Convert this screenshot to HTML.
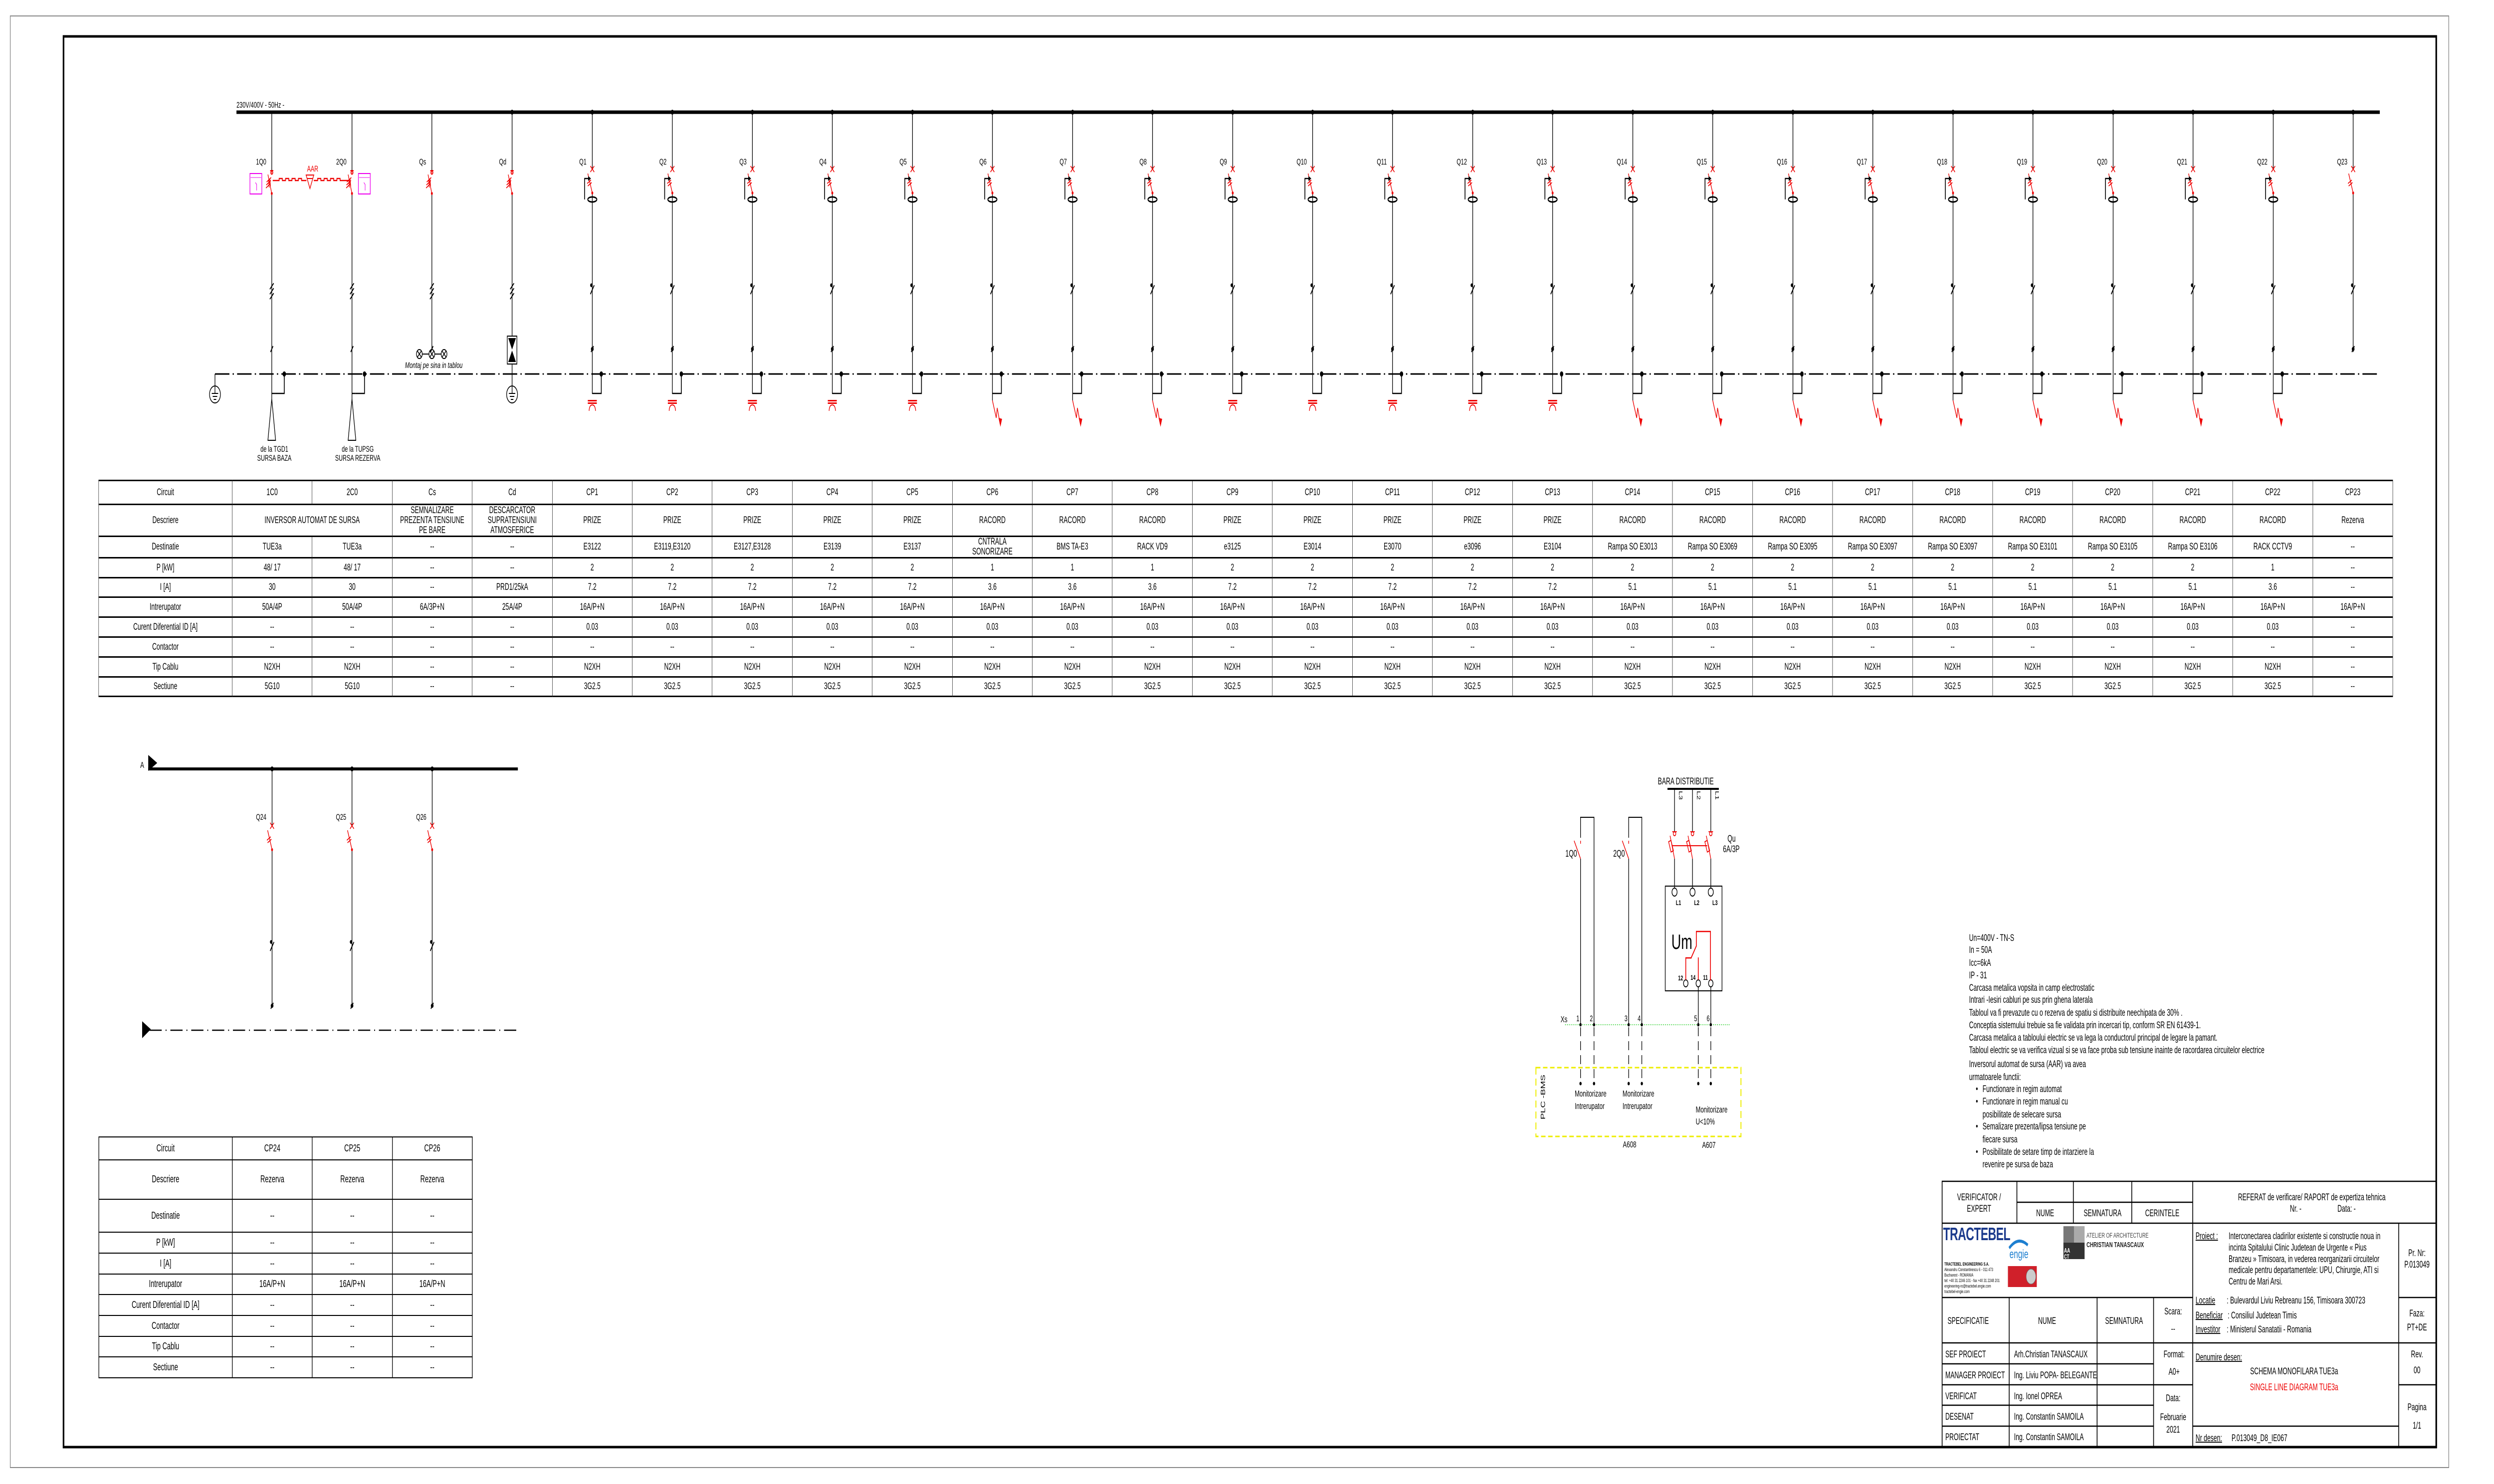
<!DOCTYPE html>
<html><head><meta charset="utf-8">
<style>
html,body{margin:0;padding:0;width:100%;height:100%;overflow:hidden;background:#fff;font-family:"Liberation Sans",Arial,sans-serif;}
#root{display:block;position:absolute;left:0;top:0;width:100vw;height:100vh;}
svg text{font-family:"Liberation Sans",Arial,sans-serif;}
table{border-collapse:collapse;table-layout:fixed;font-family:"Liberation Sans",Arial,sans-serif;}
#t1{width:7151px;font-size:19px;}
#t1 td{border-top:3px solid #000;border-bottom:3px solid #000;border-left:1.5px solid #000;border-right:1.5px solid #000;text-align:center;vertical-align:middle;padding:0;line-height:20px;overflow:visible;white-space:nowrap;}
#t2{width:1164px;font-size:20px;}
#t2 td{border:2px solid #000;text-align:center;vertical-align:middle;padding:0;white-space:nowrap;}
</style></head><body>
<svg id="root" viewBox="0 0 7773 2976" preserveAspectRatio="none" xmlns="http://www.w3.org/2000/svg">
<defs>
<g id="rcd" fill="none">
<path d="M-6,333L6,345M6,333L-6,345M-14,348L0,387M-16,368L-4,361M-14,373L-2,366" stroke="#e00" stroke-width="2"/>
<circle cx="0" cy="387" r="3" fill="#e00"/>
<path d="M-24,400V358H-12" stroke="#000" stroke-width="2.5"/>
<polygon points="-13,353 -4,358 -13,363" fill="#000"/>
<ellipse cx="0" cy="400" rx="14" ry="5" stroke="#000" stroke-width="3"/>
</g>
<g id="brk" fill="none">
<path d="M-6,333L6,345M6,333L-6,345M-14,348L0,387M-16,368L-4,361M-14,373L-2,366" stroke="#e00" stroke-width="2"/>
<circle cx="0" cy="387" r="3" fill="#e00"/>
</g>
<g id="tk" stroke="#000" stroke-width="2.5" fill="none">
<path d="M-6,590L6,572M-4,706L4,694"/><circle cx="-3" cy="572" r="2.5" fill="#000"/><circle cx="0" cy="700" r="3" fill="#000"/>
</g>
<g id="tk3" stroke="#000" stroke-width="2.5" fill="none">
<path d="M-6,580L6,568M-6,590L6,578M-6,600L6,588M-4,706L4,694"/>
</g>
<g id="pe" stroke="#000" stroke-width="2.5" fill="none">
<circle cx="28" cy="750" r="4" fill="#000"/><path d="M28,750V789H0"/>
</g>
<g id="sk" fill="none">
<rect x="-14" y="802" width="28" height="3" fill="#e00"/><rect x="-14" y="807" width="28" height="3" fill="#e00"/>
<path d="M-10,824Q-9,812 0,812Q9,812 10,824" stroke="#e00" stroke-width="2"/>
</g>
<g id="zz" fill="none">
<path d="M0,803L12,838L15,818L24,850" stroke="#e00" stroke-width="2"/>
<polygon points="19,838 25,856 30,840" fill="#e00"/>
</g>
<g id="earth" fill="none" stroke="#000" stroke-width="2">
<circle cx="0" cy="0" r="17"/><path d="M0,-17V-2M-10,-2H10M-7,4H7M-4,10H4"/>
</g>
<g id="ds" fill="none">
<path d="M-5,342H5M0,342V348" stroke="#e00" stroke-width="2"/><circle cx="0" cy="346" r="3.5" stroke="#e00" stroke-width="2"/>
<path d="M-12,350L0,388M-16,365L-2,356M-17,371L-3,362M-18,377L-4,368M-10,360L-8,376M-6,358L-4,374" stroke="#e00" stroke-width="2"/>
<circle cx="0" cy="388" r="3" fill="#e00"/>
</g>
</defs>
<rect x="0" y="0" width="7773" height="2976" fill="#fff"/>
<rect x="32" y="32" width="7600" height="2911" fill="none" stroke="#888" stroke-width="2"/>
<rect x="198" y="73" width="7395" height="2829" fill="none" stroke="#000" stroke-width="5"/>

<text x="737" y="216" font-size="17">230V/400V - 50Hz -</text>
<line x1="737" y1="225" x2="7417" y2="225" stroke="#000" stroke-width="7"/>
<line x1="670" y1="750" x2="7417" y2="750" stroke="#000" stroke-width="3" stroke-dasharray="45 10 4 10"/>
<line x1="670" y1="750" x2="670" y2="774" stroke="#000" stroke-width="2"/>
<use href="#earth" x="670" y="791"/>

<g stroke="#000" stroke-width="2" fill="none">
<path d="M847,225V342M847,388V800M1097,225V342M1097,388V800"/>
<path d="M847,800L835,883H859Z M1097,800L1085,883H1109Z"/>
</g>
<use href="#ds" x="847"/><use href="#ds" x="1097"/>
<use href="#tk3" x="847"/><use href="#tk3" x="1097"/>
<use href="#pe" x="858"/><path d="M847,789H858" stroke="#000" stroke-width="2.5"/>
<use href="#pe" x="1108"/><path d="M1097,789H1108" stroke="#000" stroke-width="2.5"/>
<rect x="779" y="348" width="37" height="41" fill="none" stroke="#e0e" stroke-width="2"/>
<line x1="781" y1="356" x2="814" y2="356" stroke="#e0e" stroke-width="1"/><path d="M796,366L800,370V382" stroke="#e0e" stroke-width="1.5" fill="none"/>
<rect x="1117" y="348" width="37" height="41" fill="none" stroke="#e0e" stroke-width="2"/>
<line x1="1119" y1="356" x2="1152" y2="356" stroke="#e0e" stroke-width="1"/><path d="M1134,366L1138,370V382" stroke="#e0e" stroke-width="1.5" fill="none"/>
<path d="M850,362H870V358H880V362H890V358H900V362H910V358H920V362H930V358H940V362H955M978,362H990V358H1000V362H1010V358H1020V362H1030V358H1040V362H1050V358H1060V362H1090" stroke="#e00" stroke-width="2.5" fill="none"/>
<path d="M954,351H978L966,378Z M958,358H974" stroke="#e00" stroke-width="2" fill="none"/>
<text x="957" y="344" font-size="17" fill="#e00">AAR</text>
<text x="830" y="330" font-size="17" text-anchor="end">1Q0</text>
<text x="1080" y="330" font-size="17" text-anchor="end">2Q0</text>
<text x="855" y="906" font-size="17" text-anchor="middle">de la TGD1</text>
<text x="855" y="924" font-size="17" text-anchor="middle">SURSA BAZA</text>
<text x="1115" y="906" font-size="17" text-anchor="middle">de la TUPSG</text>
<text x="1115" y="924" font-size="17" text-anchor="middle">SURSA REZERVA</text>

<path d="M1346,225V342M1346,388V701M1316,710H1337M1355,710H1375" stroke="#000" stroke-width="2" fill="none"/>
<use href="#ds" x="1346"/><use href="#tk3" x="1346"/>
<g stroke="#000" stroke-width="2" fill="none">
<circle cx="1307" cy="710" r="9"/><path d="M1301,704L1313,716M1313,704L1301,716"/>
<circle cx="1346" cy="710" r="9"/><path d="M1340,704L1352,716M1352,704L1340,716"/>
<circle cx="1384" cy="710" r="9"/><path d="M1378,704L1390,716M1390,704L1378,716"/>
</g>
<text x="1352" y="738" font-size="17" font-style="italic" text-anchor="middle">Montaj pe sina in tablou</text>
<text x="1328" y="330" font-size="17" text-anchor="end">Qs</text>

<circle cx="1596" cy="225" r="5"/>
<path d="M1596,225V342M1596,388V774" stroke="#000" stroke-width="2" fill="none"/>
<use href="#ds" x="1596"/><use href="#tk3" x="1596"/>
<rect x="1581" y="674" width="30" height="56" fill="#fff" stroke="#000" stroke-width="2"/>
<polygon points="1584,678 1608,678 1596,701" fill="#000"/><polygon points="1584,726 1608,726 1596,703" fill="#000"/>
<use href="#earth" x="1596" y="791"/>
<text x="1578" y="330" font-size="17" text-anchor="end">Qd</text>

<g transform="translate(1846,0)"><circle cy="225" r="5"/><path d="M0,225V339M0,387V790" stroke="#000" stroke-width="2"/><use href="#rcd"/><use href="#tk"/><use href="#pe"/><use href="#sk"/><text x="-18" y="330" font-size="17" text-anchor="end">Q1</text></g>
<g transform="translate(2095.5,0)"><circle cy="225" r="5"/><path d="M0,225V339M0,387V790" stroke="#000" stroke-width="2"/><use href="#rcd"/><use href="#tk"/><use href="#pe"/><use href="#sk"/><text x="-18" y="330" font-size="17" text-anchor="end">Q2</text></g>
<g transform="translate(2345,0)"><circle cy="225" r="5"/><path d="M0,225V339M0,387V790" stroke="#000" stroke-width="2"/><use href="#rcd"/><use href="#tk"/><use href="#pe"/><use href="#sk"/><text x="-18" y="330" font-size="17" text-anchor="end">Q3</text></g>
<g transform="translate(2594,0)"><circle cy="225" r="5"/><path d="M0,225V339M0,387V790" stroke="#000" stroke-width="2"/><use href="#rcd"/><use href="#tk"/><use href="#pe"/><use href="#sk"/><text x="-18" y="330" font-size="17" text-anchor="end">Q4</text></g>
<g transform="translate(2844,0)"><circle cy="225" r="5"/><path d="M0,225V339M0,387V790" stroke="#000" stroke-width="2"/><use href="#rcd"/><use href="#tk"/><use href="#pe"/><use href="#sk"/><text x="-18" y="330" font-size="17" text-anchor="end">Q5</text></g>
<g transform="translate(3093,0)"><circle cy="225" r="5"/><path d="M0,225V339M0,387V803" stroke="#000" stroke-width="2"/><use href="#rcd"/><use href="#tk"/><use href="#pe"/><use href="#zz"/><text x="-18" y="330" font-size="17" text-anchor="end">Q6</text></g>
<g transform="translate(3343,0)"><circle cy="225" r="5"/><path d="M0,225V339M0,387V803" stroke="#000" stroke-width="2"/><use href="#rcd"/><use href="#tk"/><use href="#pe"/><use href="#zz"/><text x="-18" y="330" font-size="17" text-anchor="end">Q7</text></g>
<g transform="translate(3592,0)"><circle cy="225" r="5"/><path d="M0,225V339M0,387V803" stroke="#000" stroke-width="2"/><use href="#rcd"/><use href="#tk"/><use href="#pe"/><use href="#zz"/><text x="-18" y="330" font-size="17" text-anchor="end">Q8</text></g>
<g transform="translate(3842,0)"><circle cy="225" r="5"/><path d="M0,225V339M0,387V790" stroke="#000" stroke-width="2"/><use href="#rcd"/><use href="#tk"/><use href="#pe"/><use href="#sk"/><text x="-18" y="330" font-size="17" text-anchor="end">Q9</text></g>
<g transform="translate(4091,0)"><circle cy="225" r="5"/><path d="M0,225V339M0,387V790" stroke="#000" stroke-width="2"/><use href="#rcd"/><use href="#tk"/><use href="#pe"/><use href="#sk"/><text x="-18" y="330" font-size="17" text-anchor="end">Q10</text></g>
<g transform="translate(4340,0)"><circle cy="225" r="5"/><path d="M0,225V339M0,387V790" stroke="#000" stroke-width="2"/><use href="#rcd"/><use href="#tk"/><use href="#pe"/><use href="#sk"/><text x="-18" y="330" font-size="17" text-anchor="end">Q11</text></g>
<g transform="translate(4590,0)"><circle cy="225" r="5"/><path d="M0,225V339M0,387V790" stroke="#000" stroke-width="2"/><use href="#rcd"/><use href="#tk"/><use href="#pe"/><use href="#sk"/><text x="-18" y="330" font-size="17" text-anchor="end">Q12</text></g>
<g transform="translate(4839,0)"><circle cy="225" r="5"/><path d="M0,225V339M0,387V790" stroke="#000" stroke-width="2"/><use href="#rcd"/><use href="#tk"/><use href="#pe"/><use href="#sk"/><text x="-18" y="330" font-size="17" text-anchor="end">Q13</text></g>
<g transform="translate(5089,0)"><circle cy="225" r="5"/><path d="M0,225V339M0,387V803" stroke="#000" stroke-width="2"/><use href="#rcd"/><use href="#tk"/><use href="#pe"/><use href="#zz"/><text x="-18" y="330" font-size="17" text-anchor="end">Q14</text></g>
<g transform="translate(5338,0)"><circle cy="225" r="5"/><path d="M0,225V339M0,387V803" stroke="#000" stroke-width="2"/><use href="#rcd"/><use href="#tk"/><use href="#pe"/><use href="#zz"/><text x="-18" y="330" font-size="17" text-anchor="end">Q15</text></g>
<g transform="translate(5588,0)"><circle cy="225" r="5"/><path d="M0,225V339M0,387V803" stroke="#000" stroke-width="2"/><use href="#rcd"/><use href="#tk"/><use href="#pe"/><use href="#zz"/><text x="-18" y="330" font-size="17" text-anchor="end">Q16</text></g>
<g transform="translate(5837,0)"><circle cy="225" r="5"/><path d="M0,225V339M0,387V803" stroke="#000" stroke-width="2"/><use href="#rcd"/><use href="#tk"/><use href="#pe"/><use href="#zz"/><text x="-18" y="330" font-size="17" text-anchor="end">Q17</text></g>
<g transform="translate(6087,0)"><circle cy="225" r="5"/><path d="M0,225V339M0,387V803" stroke="#000" stroke-width="2"/><use href="#rcd"/><use href="#tk"/><use href="#pe"/><use href="#zz"/><text x="-18" y="330" font-size="17" text-anchor="end">Q18</text></g>
<g transform="translate(6336,0)"><circle cy="225" r="5"/><path d="M0,225V339M0,387V803" stroke="#000" stroke-width="2"/><use href="#rcd"/><use href="#tk"/><use href="#pe"/><use href="#zz"/><text x="-18" y="330" font-size="17" text-anchor="end">Q19</text></g>
<g transform="translate(6586,0)"><circle cy="225" r="5"/><path d="M0,225V339M0,387V803" stroke="#000" stroke-width="2"/><use href="#rcd"/><use href="#tk"/><use href="#pe"/><use href="#zz"/><text x="-18" y="330" font-size="17" text-anchor="end">Q20</text></g>
<g transform="translate(6835,0)"><circle cy="225" r="5"/><path d="M0,225V339M0,387V803" stroke="#000" stroke-width="2"/><use href="#rcd"/><use href="#tk"/><use href="#pe"/><use href="#zz"/><text x="-18" y="330" font-size="17" text-anchor="end">Q21</text></g>
<g transform="translate(7085,0)"><circle cy="225" r="5"/><path d="M0,225V339M0,387V803" stroke="#000" stroke-width="2"/><use href="#rcd"/><use href="#tk"/><use href="#pe"/><use href="#zz"/><text x="-18" y="330" font-size="17" text-anchor="end">Q22</text></g>
<g transform="translate(7334,0)"><circle cy="225" r="5"/><path d="M0,225V339M0,387V706" stroke="#000" stroke-width="2"/><use href="#brk"/><use href="#tk"/><text x="-18" y="330" font-size="17" text-anchor="end">Q23</text></g>

<text x="437" y="1540" font-size="18">A</text>
<polygon points="462,1514 490,1530 462,1546" fill="#000"/>
<line x1="462" y1="1542" x2="1614" y2="1542" stroke="#000" stroke-width="6"/>
<polygon points="443,2048 470,2064 443,2082" fill="#000"/>
<line x1="466" y1="2066" x2="1614" y2="2066" stroke="#000" stroke-width="2.5" stroke-dasharray="38 12 3 12"/>
<g transform="translate(848,1317)"><circle cy="225" r="5"/><path d="M0,225V339M0,387V700" stroke="#000" stroke-width="2"/><use href="#brk"/><use href="#tk"/><text x="-18" y="327" font-size="17" text-anchor="end">Q24</text></g>
<g transform="translate(1097,1317)"><circle cy="225" r="5"/><path d="M0,225V339M0,387V700" stroke="#000" stroke-width="2"/><use href="#brk"/><use href="#tk"/><text x="-18" y="327" font-size="17" text-anchor="end">Q25</text></g>
<g transform="translate(1347,1317)"><circle cy="225" r="5"/><path d="M0,225V339M0,387V700" stroke="#000" stroke-width="2"/><use href="#brk"/><use href="#tk"/><text x="-18" y="327" font-size="17" text-anchor="end">Q26</text></g>

<text x="5167" y="1573" font-size="19">BARA DISTRIBUTIE</text>
<line x1="5197" y1="1582" x2="5357" y2="1582" stroke="#000" stroke-width="4"/>
<g stroke="#000" stroke-width="2" fill="none">
<path d="M5219,1582V1668M5275,1582V1668M5332,1582V1668M5219,1722V1781M5275,1722V1781M5332,1722V1781"/>
<rect x="5190" y="1777" width="177" height="210"/>
<circle cx="5219" cy="1789" r="8"/><circle cx="5275" cy="1789" r="8"/><circle cx="5332" cy="1789" r="8"/>
<circle cx="5254" cy="1972" r="7"/><circle cx="5293" cy="1972" r="7"/><circle cx="5332" cy="1972" r="7"/>
<path d="M5293,1979V2055M5332,1979V2055"/>
<path d="M4926,1680V1639H4968V2055M4926,1722V2055M5076,1680V1639H5117V2055M5076,1722V2055"/>
<path d="M4926,2060V2170M4968,2060V2170M5076,2060V2170M5117,2060V2170M5293,2060V2170M5332,2060V2170" stroke-dasharray="18 10"/>
</g>
<g font-size="16" text-anchor="middle">
<text transform="translate(5233,1595) rotate(90)">L3</text>
<text transform="translate(5289,1595) rotate(90)">L2</text>
<text transform="translate(5346,1595) rotate(90)">L1</text>
</g>
<g stroke="#e00" stroke-width="2" fill="none">
<circle cx="5219" cy="1672" r="4"/><circle cx="5275" cy="1672" r="4"/><circle cx="5332" cy="1672" r="4"/>
<path d="M5212,1668H5226M5268,1668H5282M5325,1668H5339"/>
<path d="M5205,1676L5219,1722M5261,1676L5275,1722M5318,1676L5332,1722"/>
<rect x="5204" y="1686" width="8" height="22" transform="rotate(-20 5208 1697)"/>
<rect x="5260" y="1686" width="8" height="22" transform="rotate(-20 5264 1697)"/>
<rect x="5317" y="1686" width="8" height="22" transform="rotate(-20 5321 1697)"/>
<path d="M5212,1696H5321"/>
<path d="M4906,1686L4926,1722M4926,1686V1692M5056,1686L5076,1722M5076,1686V1692"/>
<path d="M5331,1966V1868H5287V1897L5270,1922M5254,1965V1921H5272M5293,1965V1920" stroke-width="2.5"/>
</g>
<text x="5384" y="1688" font-size="19">Qu</text>
<text x="5370" y="1709" font-size="19">6A/3P</text>
<g font-size="14" font-weight="bold"><text x="5223" y="1815">L1</text><text x="5280" y="1815">L2</text><text x="5337" y="1815">L3</text>
<text x="5230" y="1966">12</text><text x="5269" y="1965">14</text><text x="5308" y="1965">11</text></g>
<text x="5209" y="1903" font-size="42">Um</text>
<text x="4879" y="1718" font-size="19">1Q0</text>
<text x="5028" y="1718" font-size="19">2Q0</text>
<line x1="4878" y1="2055" x2="5392" y2="2055" stroke="#2c2" stroke-width="2" stroke-dasharray="2 4"/>
<text x="4864" y="2050" font-size="18">Xs</text>
<g font-size="17"><text x="4913" y="2048">1</text><text x="4955" y="2048">2</text><text x="5063" y="2048">3</text><text x="5104" y="2048">4</text><text x="5280" y="2048">5</text><text x="5319" y="2048">6</text></g>
<g fill="#000"><circle cx="4926" cy="2055" r="3.5"/><circle cx="4968" cy="2055" r="3.5"/><circle cx="5076" cy="2055" r="3.5"/><circle cx="5117" cy="2055" r="3.5"/><circle cx="5293" cy="2055" r="3.5"/><circle cx="5332" cy="2055" r="3.5"/>
<circle cx="4926" cy="2173" r="3.5"/><circle cx="4968" cy="2173" r="3.5"/><circle cx="5076" cy="2173" r="3.5"/><circle cx="5117" cy="2173" r="3.5"/><circle cx="5293" cy="2173" r="3.5"/><circle cx="5332" cy="2173" r="3.5"/></g>
<rect x="4787" y="2141" width="639" height="138" fill="none" stroke="#ee0" stroke-width="3" stroke-dasharray="14 8"/>
<text transform="translate(4815,2200) rotate(-90)" font-size="19" text-anchor="middle">PLC -BMS</text>
<g font-size="18"><text x="4908" y="2199">Monitorizare</text><text x="4908" y="2224">Intrerupator</text>
<text x="5057" y="2199">Monitorizare</text><text x="5057" y="2224">Intrerupator</text>
<text x="5285" y="2231">Monitorizare</text><text x="5285" y="2255">U&lt;10%</text>
<text x="5058" y="2301">A608</text><text x="5305" y="2302">A607</text></g>

<g font-size="19">
<text x="6137" y="1887">Un=400V - TN-S</text>
<text x="6137" y="1911">In = 50A</text>
<text x="6137" y="1937">Icc=6kA</text>
<text x="6137" y="1962">IP - 31</text>
<text x="6137" y="1987">Carcasa metalica vopsita in camp electrostatic</text>
<text x="6137" y="2011">Intrari -Iesiri cabluri pe sus prin ghena laterala</text>
<text x="6137" y="2037">Tabloul va fi prevazute cu o rezerva de spatiu si distribuite neechipata de 30% .</text>
<text x="6137" y="2062">Conceptia sistemului trebuie sa fie validata prin incercari tip, conform SR EN 61439-1.</text>
<text x="6137" y="2087">Carcasa metalica a tabloului electric se va lega la conductorul principal de legare la pamant.</text>
<text x="6137" y="2112">Tabloul electric se va verifica vizual si se va face proba sub tensiune inainte de racordarea circuitelor electrice</text>
<text x="6137" y="2140">Inversorul automat  de sursa  (AAR) va avea</text>
<text x="6137" y="2166">urmatoarele functii:</text>
<text x="6158" y="2190">•</text><text x="6179" y="2190">Functionare in regim automat</text>
<text x="6158" y="2215">•</text><text x="6179" y="2215">Functionare in regim manual cu</text>
<text x="6179" y="2241">posibilitate de selecare sursa</text>
<text x="6158" y="2265">•</text><text x="6179" y="2265">Semalizare prezenta/lipsa tensiune pe</text>
<text x="6179" y="2291">fiecare sursa</text>
<text x="6158" y="2316">•</text><text x="6179" y="2316">Posibilitate de setare timp de intarziere la</text>
<text x="6179" y="2341">revenire pe sursa de baza</text>
</g>

<g stroke="#000" stroke-width="2.5" fill="none">
<rect x="6053" y="2369" width="1540" height="533"/>
<path d="M6053,2453H7593M6286,2411H6834M6053,2602H6834M7476,2602H7593M6053,2693H7593M6053,2735H6712M6053,2777H6834M7476,2777H7593M6053,2818H6712M6053,2860H6712M6834,2860H7476"/>
<path d="M6286,2369V2453M6462,2369V2453M6644,2369V2453M6834,2369V2902M7476,2453V2902M6262,2602V2902M6536,2602V2902M6712,2602V2902"/>
</g>
<g font-size="19">
<text x="6168" y="2407" text-anchor="middle">VERIFICATOR /</text>
<text x="6168" y="2430" text-anchor="middle">EXPERT</text>
<text x="6374" y="2439" text-anchor="middle">NUME</text>
<text x="6553" y="2439" text-anchor="middle">SEMNATURA</text>
<text x="6739" y="2439" text-anchor="middle">CERINTELE</text>
<text x="7205" y="2407" text-anchor="middle">REFERAT de verificare/ RAPORT de expertiza tehnica</text>
<text x="7137" y="2430">Nr.   -</text><text x="7285" y="2430">Data:    -</text>
<text x="7533" y="2519" text-anchor="middle">Pr. Nr:</text>
<text x="7533" y="2542" text-anchor="middle">P.013049</text>
<text x="6843" y="2485" text-decoration="underline">Proiect :</text>
<text x="6946" y="2485">Interconectarea cladirilor existente si constructie noua in</text>
<text x="6946" y="2508">incinta Spitalului Clinic Judetean de Urgente « Pius</text>
<text x="6946" y="2531">Branzeu » Timisoara, in vederea reorganizarii circuitelor</text>
<text x="6946" y="2553">medicale pentru departamentele: UPU, Chirurgie, ATI si</text>
<text x="6946" y="2576">Centru de Mari Arsi.</text>
<text x="6843" y="2614" text-decoration="underline">Locatie</text><text x="6940" y="2614">: Bulevardul Liviu Rebreanu 156, Timisoara 300723</text>
<text x="6843" y="2644" text-decoration="underline">Beneficiar</text><text x="6943" y="2644">: Consiliul Judetean Timis</text>
<text x="6843" y="2672" text-decoration="underline">Investitor</text><text x="6940" y="2672">: Ministerul Sanatatii - Romania</text>
<text x="7533" y="2640" text-anchor="middle">Faza:</text>
<text x="7533" y="2668" text-anchor="middle">PT+DE</text>
<text x="6070" y="2655">SPECIFICATIE</text>
<text x="6380" y="2655" text-anchor="middle">NUME</text>
<text x="6620" y="2655" text-anchor="middle">SEMNATURA</text>
<text x="6773" y="2636" text-anchor="middle">Scara:</text>
<text x="6773" y="2671" text-anchor="middle">--</text>
<text x="6063" y="2722">SEF PROIECT</text><text x="6277" y="2722">Arh.Christian TANASCAUX</text>
<text x="6063" y="2764">MANAGER PROIECT</text><text x="6277" y="2764">Ing. Liviu POPA- BELEGANTE</text>
<text x="6063" y="2806">VERIFICAT</text><text x="6277" y="2806">Ing. Ionel OPREA</text>
<text x="6063" y="2847">DESENAT</text><text x="6277" y="2847">Ing. Constantin SAMOILA</text>
<text x="6063" y="2888">PROIECTAT</text><text x="6277" y="2888">Ing. Constantin SAMOILA</text>
<text x="6776" y="2722" text-anchor="middle">Format:</text>
<text x="6776" y="2757" text-anchor="middle">A0+</text>
<text x="6773" y="2810" text-anchor="middle">Data:</text>
<text x="6773" y="2848" text-anchor="middle">Februarie</text>
<text x="6773" y="2873" text-anchor="middle">2021</text>
<text x="6843" y="2728" text-decoration="underline">Denumire desen:</text>
<text x="7150" y="2756" text-anchor="middle">SCHEMA MONOFILARA TUE3a</text>
<text x="7150" y="2788" text-anchor="middle" fill="#e00">SINGLE LINE DIAGRAM TUE3a</text>
<text x="6843" y="2890" text-decoration="underline">Nr desen:</text><text x="6955" y="2890">P.013049_D8_IE067</text>
<text x="7533" y="2722" text-anchor="middle">Rev.</text>
<text x="7533" y="2754" text-anchor="middle">00</text>
<text x="7533" y="2828" text-anchor="middle">Pagina</text>
<text x="7533" y="2865" text-anchor="middle">1/1</text>
</g>
<text x="6056" y="2487" font-size="36" font-weight="bold" fill="#1b3a8c" letter-spacing="-1">TRACTEBEL</text>
<path d="M6262,2503Q6290,2478 6320,2497" stroke="#1e7fd0" stroke-width="6" fill="none"/>
<text x="6263" y="2523" font-size="24" fill="#1e7fd0">engie</text>
<g font-size="9"><text x="6060" y="2538" font-weight="bold">TRACTEBEL ENGINEERING S.A.</text>
<text x="6060" y="2549">Alexandru Constantinescu 6 - 011 473</text>
<text x="6060" y="2560">Bucharest - ROMANIA</text>
<text x="6060" y="2571">tel: +40 31 2246 101 - fax +40 31 2248 201</text>
<text x="6060" y="2582">engineering-ro@tractebel.engie.com</text>
<text x="6060" y="2593">tractebel-engie.com</text></g>
<rect x="6258" y="2539" width="90" height="42" fill="#d0202a"/>
<circle cx="6330" cy="2560" r="15" fill="#ccc" stroke="#666"/>
<rect x="6431" y="2459" width="33" height="33" fill="#777"/><rect x="6464" y="2459" width="33" height="33" fill="#aaa"/>
<rect x="6431" y="2492" width="66" height="33" fill="#333"/>
<text x="6433" y="2512" font-size="13" fill="#fff" font-weight="bold">AA</text><text x="6433" y="2524" font-size="12" fill="#fff" font-weight="bold">CT</text>
<text x="6503" y="2482" font-size="14" fill="#444">ATELIER OF ARCHITECTURE</text>
<text x="6503" y="2501" font-size="15" font-weight="bold" fill="#222">CHRISTIAN TANASCAUX</text>

<foreignObject x="307" y="962" width="7160" height="440">
<div xmlns="http://www.w3.org/1999/xhtml">
<table id="t1">
<colgroup><col style="width:416px"/><col span="27" style="width:249.4px"/></colgroup>
<tr style="height:48px"><td>Circuit</td><td>1C0</td><td>2C0</td><td>Cs</td><td>Cd</td><td>CP1</td><td>CP2</td><td>CP3</td><td>CP4</td><td>CP5</td><td>CP6</td><td>CP7</td><td>CP8</td><td>CP9</td><td>CP10</td><td>CP11</td><td>CP12</td><td>CP13</td><td>CP14</td><td>CP15</td><td>CP16</td><td>CP17</td><td>CP18</td><td>CP19</td><td>CP20</td><td>CP21</td><td>CP22</td><td>CP23</td></tr>
<tr style="height:64px"><td>Descriere</td><td colspan="2">INVERSOR AUTOMAT DE SURSA</td><td>SEMNALIZARE<br/>PREZENTA TENSIUNE<br/>PE BARE</td><td>DESCARCATOR<br/>SUPRATENSIUNI<br/>ATMOSFERICE</td><td>PRIZE</td><td>PRIZE</td><td>PRIZE</td><td>PRIZE</td><td>PRIZE</td><td>RACORD</td><td>RACORD</td><td>RACORD</td><td>PRIZE</td><td>PRIZE</td><td>PRIZE</td><td>PRIZE</td><td>PRIZE</td><td>RACORD</td><td>RACORD</td><td>RACORD</td><td>RACORD</td><td>RACORD</td><td>RACORD</td><td>RACORD</td><td>RACORD</td><td>RACORD</td><td>Rezerva</td></tr>
<tr style="height:43px"><td>Destinatie</td><td>TUE3a</td><td>TUE3a</td><td>--</td><td>--</td><td>E3122</td><td>E3119,E3120</td><td>E3127,E3128</td><td>E3139</td><td>E3137</td><td>CNTRALA<br/>SONORIZARE</td><td>BMS TA-E3</td><td>RACK VD9</td><td>e3125</td><td>E3014</td><td>E3070</td><td>e3096</td><td>E3104</td><td>Rampa SO E3013</td><td>Rampa SO E3069</td><td>Rampa SO E3095</td><td>Rampa SO E3097</td><td>Rampa SO E3097</td><td>Rampa SO E3101</td><td>Rampa SO E3105</td><td>Rampa SO E3106</td><td>RACK CCTV9</td><td>--</td></tr>
<tr style="height:40px"><td>P [kW]</td><td>48/ 17</td><td>48/ 17</td><td>--</td><td>--</td><td>2</td><td>2</td><td>2</td><td>2</td><td>2</td><td>1</td><td>1</td><td>1</td><td>2</td><td>2</td><td>2</td><td>2</td><td>2</td><td>2</td><td>2</td><td>2</td><td>2</td><td>2</td><td>2</td><td>2</td><td>2</td><td>1</td><td>--</td></tr>
<tr style="height:39px"><td>I [A]</td><td>30</td><td>30</td><td>--</td><td>PRD1/25kA</td><td>7.2</td><td>7.2</td><td>7.2</td><td>7.2</td><td>7.2</td><td>3.6</td><td>3.6</td><td>3.6</td><td>7.2</td><td>7.2</td><td>7.2</td><td>7.2</td><td>7.2</td><td>5.1</td><td>5.1</td><td>5.1</td><td>5.1</td><td>5.1</td><td>5.1</td><td>5.1</td><td>5.1</td><td>3.6</td><td>--</td></tr>
<tr style="height:40px"><td>Intrerupator</td><td>50A/4P</td><td>50A/4P</td><td>6A/3P+N</td><td>25A/4P</td><td>16A/P+N</td><td>16A/P+N</td><td>16A/P+N</td><td>16A/P+N</td><td>16A/P+N</td><td>16A/P+N</td><td>16A/P+N</td><td>16A/P+N</td><td>16A/P+N</td><td>16A/P+N</td><td>16A/P+N</td><td>16A/P+N</td><td>16A/P+N</td><td>16A/P+N</td><td>16A/P+N</td><td>16A/P+N</td><td>16A/P+N</td><td>16A/P+N</td><td>16A/P+N</td><td>16A/P+N</td><td>16A/P+N</td><td>16A/P+N</td><td>16A/P+N</td></tr>
<tr style="height:40px"><td>Curent Diferential ID [A]</td><td>--</td><td>--</td><td>--</td><td>--</td><td>0.03</td><td>0.03</td><td>0.03</td><td>0.03</td><td>0.03</td><td>0.03</td><td>0.03</td><td>0.03</td><td>0.03</td><td>0.03</td><td>0.03</td><td>0.03</td><td>0.03</td><td>0.03</td><td>0.03</td><td>0.03</td><td>0.03</td><td>0.03</td><td>0.03</td><td>0.03</td><td>0.03</td><td>0.03</td><td>--</td></tr>
<tr style="height:40px"><td>Contactor</td><td>--</td><td>--</td><td>--</td><td>--</td><td>--</td><td>--</td><td>--</td><td>--</td><td>--</td><td>--</td><td>--</td><td>--</td><td>--</td><td>--</td><td>--</td><td>--</td><td>--</td><td>--</td><td>--</td><td>--</td><td>--</td><td>--</td><td>--</td><td>--</td><td>--</td><td>--</td><td>--</td></tr>
<tr style="height:40px"><td>Tip Cablu</td><td>N2XH</td><td>N2XH</td><td>--</td><td>--</td><td>N2XH</td><td>N2XH</td><td>N2XH</td><td>N2XH</td><td>N2XH</td><td>N2XH</td><td>N2XH</td><td>N2XH</td><td>N2XH</td><td>N2XH</td><td>N2XH</td><td>N2XH</td><td>N2XH</td><td>N2XH</td><td>N2XH</td><td>N2XH</td><td>N2XH</td><td>N2XH</td><td>N2XH</td><td>N2XH</td><td>N2XH</td><td>N2XH</td><td>--</td></tr>
<tr style="height:39px"><td>Sectiune</td><td>5G10</td><td>5G10</td><td>--</td><td>--</td><td>3G2.5</td><td>3G2.5</td><td>3G2.5</td><td>3G2.5</td><td>3G2.5</td><td>3G2.5</td><td>3G2.5</td><td>3G2.5</td><td>3G2.5</td><td>3G2.5</td><td>3G2.5</td><td>3G2.5</td><td>3G2.5</td><td>3G2.5</td><td>3G2.5</td><td>3G2.5</td><td>3G2.5</td><td>3G2.5</td><td>3G2.5</td><td>3G2.5</td><td>3G2.5</td><td>3G2.5</td><td>--</td></tr>
</table>
</div>
</foreignObject>

<foreignObject x="307" y="2279" width="1170" height="490">
<div xmlns="http://www.w3.org/1999/xhtml">
<table id="t2">
<colgroup><col style="width:416px"/><col span="3" style="width:249.3px"/></colgroup>
<tr style="height:46px"><td>Circuit</td><td>CP24</td><td>CP25</td><td>CP26</td></tr>
<tr style="height:79px"><td>Descriere</td><td>Rezerva</td><td>Rezerva</td><td>Rezerva</td></tr>
<tr style="height:66px"><td>Destinatie</td><td>--</td><td>--</td><td>--</td></tr>
<tr style="height:42px"><td>P [kW]</td><td>--</td><td>--</td><td>--</td></tr>
<tr style="height:42px"><td>I [A]</td><td>--</td><td>--</td><td>--</td></tr>
<tr style="height:41px"><td>Intrerupator</td><td>16A/P+N</td><td>16A/P+N</td><td>16A/P+N</td></tr>
<tr style="height:42px"><td>Curent Diferential ID [A]</td><td>--</td><td>--</td><td>--</td></tr>
<tr style="height:42px"><td>Contactor</td><td>--</td><td>--</td><td>--</td></tr>
<tr style="height:41px"><td>Tip Cablu</td><td>--</td><td>--</td><td>--</td></tr>
<tr style="height:42px"><td>Sectiune</td><td>--</td><td>--</td><td>--</td></tr>
</table>
</div>
</foreignObject>
</svg>
</body></html>
